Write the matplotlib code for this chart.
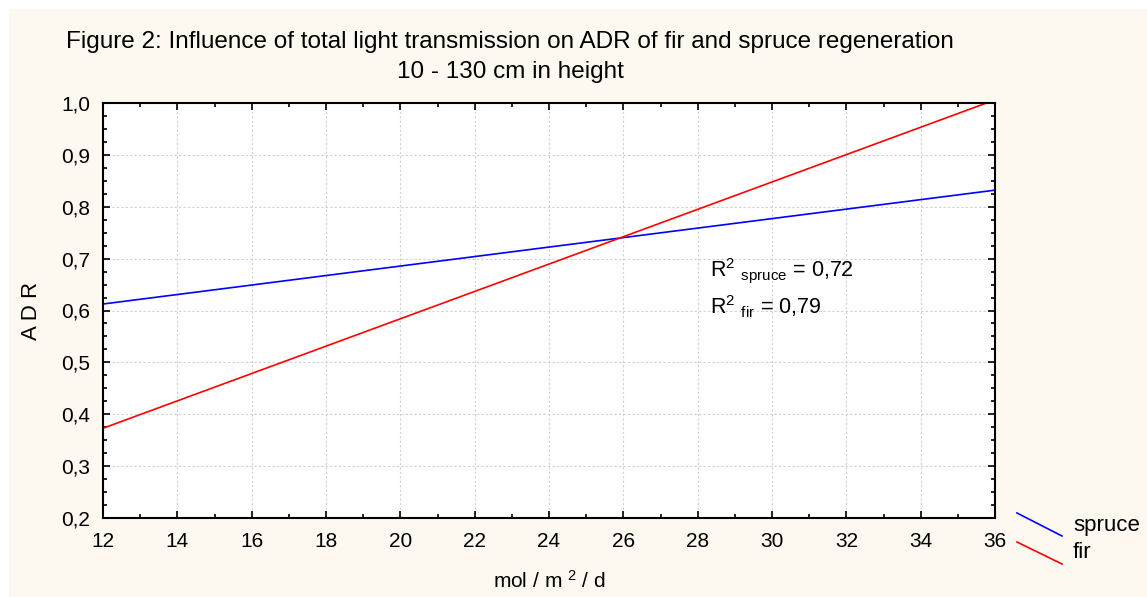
import matplotlib.pyplot as plt
from matplotlib.lines import Line2D
from matplotlib.patches import Rectangle
from matplotlib.ticker import MultipleLocator

plt.rcParams["font.family"] = ["Liberation Sans", "DejaVu Sans"]
plt.rcParams["mathtext.fontset"] = "custom"
plt.rcParams["mathtext.rm"] = "Liberation Sans"
plt.rcParams["mathtext.it"] = "Liberation Sans"

# regression line end points
x_ends = [12, 36]
spruce = [0.6125, 0.832]
fir = [0.373, 1.006]

x_ticks = [12, 14, 16, 18, 20, 22, 24, 26, 28, 30, 32, 34, 36]
y_ticks = [0.2, 0.3, 0.4, 0.5, 0.6, 0.7, 0.8, 0.9, 1.0]

fig = plt.figure(figsize=(11.47, 5.97), dpi=100)
fig.patch.set_facecolor("white")
fig.patches.append(Rectangle((9 / 1147, 0), 1, 1 - 9 / 597, transform=fig.transFigure,
                             facecolor="#fdf9f0", edgecolor="none", zorder=-10))

ax = fig.add_axes([103 / 1147, 1 - 518 / 597, 892 / 1147, 415 / 597])
ax.set_facecolor("white")

ax.plot(x_ends, spruce, color="#0000ff", lw=1.2)
ax.plot(x_ends, fir, color="#ff0000", lw=1.2)

ax.set_xlim(12, 36)
ax.set_ylim(0.2, 1.0)
ax.xaxis.set_minor_locator(MultipleLocator(1))
ax.yaxis.set_minor_locator(MultipleLocator(0.025))
ax.set_xticks(x_ticks)
ax.set_xticklabels([str(v) for v in x_ticks])
ax.set_yticks(y_ticks)
ax.set_yticklabels([f"{v:.1f}".replace(".", ",") for v in y_ticks])
ax.tick_params(which="both", direction="in", top=True, right=True, labelsize=15, width=1.2)
ax.tick_params(which="major", length=5)
ax.tick_params(which="minor", length=3)
ax.tick_params(axis="x", pad=10)
ax.tick_params(axis="y", pad=9)
ax.grid(True, which="major", color="#d0d0d0", linestyle=(0, (2, 2)), lw=0.8)
for s in ax.spines.values():
    s.set_linewidth(1.5)

ax.set_ylabel("A D R", fontsize=16, labelpad=14)
ax.set_xlabel(r"mol / m $^2$ / d", fontsize=15, labelpad=14)

ax.text(28.33, 0.678, r"R$^2$ $_{\rm spruce}$ = 0,72", fontsize=15.5, va="center")
ax.text(28.33, 0.607, r"R$^2$ $_{\rm fir}$ = 0,79", fontsize=15.5, va="center")

fig.text(0.445, 0.930, "Figure 2: Influence of total light transmission on ADR of fir and spruce regeneration",
         ha="center", va="center", fontsize=17.5)
fig.text(0.445, 0.880, "10 - 130 cm in height", ha="center", va="center", fontsize=17.5)

# legend drawn outside the axes
fig.add_artist(Line2D([1017 / 1147, 1062 / 1147], [1 - 513 / 597, 1 - 536 / 597],
                      transform=fig.transFigure, color="#0000ff", lw=1.2))
fig.add_artist(Line2D([1017 / 1147, 1062 / 1147], [1 - 542 / 597, 1 - 564 / 597],
                      transform=fig.transFigure, color="#ff0000", lw=1.2))
fig.text(1073 / 1147, 1 - 525 / 597, "spruce", fontsize=16, va="center")
fig.text(1073 / 1147, 1 - 552 / 597, "fir", fontsize=16, va="center")

fig.savefig("out.png", dpi=100, facecolor=fig.get_facecolor())
